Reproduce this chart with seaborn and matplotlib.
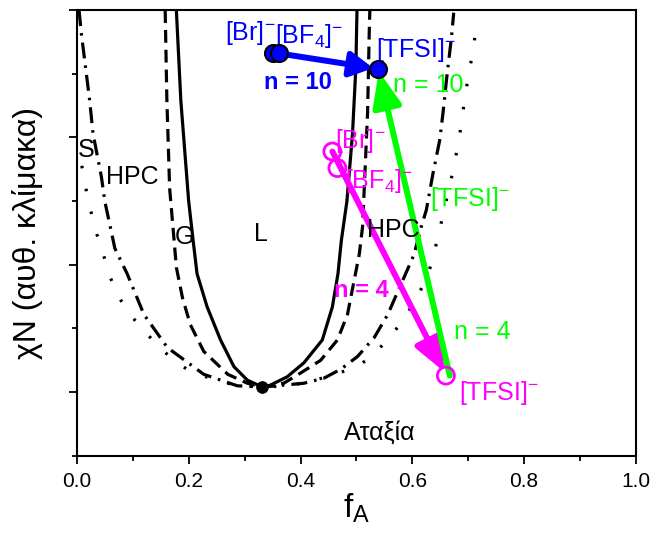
import numpy as np
import pandas as pd
import seaborn as sns
from matplotlib import pyplot as plt
from matplotlib.ticker import MultipleLocator, NullFormatter

# phase boundaries (f_A, chiN in arbitrary units)
odt_f = [0.178, 0.186, 0.200, 0.208, 0.215, 0.233, 0.257, 0.281, 0.305, 0.332,
         0.346, 0.376, 0.406, 0.439, 0.457, 0.467, 0.473, 0.483, 0.493, 0.499, 0.501]
odt_chi = [3.0, 2.29, 1.5, 1.19, 0.93, 0.67, 0.41, 0.2, 0.094, 0.04,
           0.055, 0.12, 0.23, 0.41, 0.67, 0.93, 1.19, 1.5, 2.03, 2.55, 3.0]

dash_f = [0.158, 0.161, 0.166, 0.174, 0.178, 0.189, 0.203, 0.227, 0.270, 0.305, 0.332,
          0.370, 0.400, 0.436, 0.466, 0.484, 0.496, 0.505, 0.511, 0.515, 0.520, 0.523, 0.524]
dash_chi = [3.0, 2.3, 1.6, 1.19, 0.98, 0.74, 0.53, 0.32, 0.14, 0.07, 0.04,
            0.07, 0.15, 0.25, 0.41, 0.61, 0.88, 1.08, 1.3, 1.7, 2.2, 2.84, 3.0]

dashdot_f = [0.004, 0.008, 0.023, 0.029, 0.044, 0.050, 0.068, 0.090, 0.120, 0.162, 0.227, 0.287, 0.332,
             0.406, 0.442, 0.472, 0.502, 0.532, 0.556, 0.580, 0.603, 0.616, 0.625, 0.637, 0.649,
             0.655, 0.661, 0.670, 0.674]
dashdot_chi = [3.0, 2.82, 2.29, 2.03, 1.69, 1.5, 1.13, 0.93, 0.61, 0.35, 0.14, 0.05, 0.04,
               0.07, 0.11, 0.18, 0.28, 0.43, 0.61, 0.85, 1.08, 1.3, 1.43, 1.72, 1.98,
               2.2, 2.45, 2.79, 2.98]

dot_f = [-0.005, 0.008, 0.020, 0.035, 0.042, 0.051, 0.060, 0.072, 0.090, 0.114, 0.142, 0.168, 0.200,
         0.257, 0.293, 0.332, 0.382, 0.448, 0.502, 0.532, 0.559, 0.583, 0.601, 0.617, 0.630,
         0.638, 0.646, 0.666, 0.673, 0.684, 0.693, 0.702, 0.709, 0.715]
dot_chi = [1.95, 1.8, 1.51, 1.25, 1.16, 1.03, 0.9, 0.77, 0.64, 0.51, 0.38, 0.27, 0.17,
           0.08, 0.05, 0.04, 0.05, 0.12, 0.2, 0.3, 0.43, 0.56, 0.69, 0.82, 0.95,
           1.08, 1.22, 1.61, 1.74, 2.0, 2.28, 2.54, 2.67, 2.94]

# experimental points
ions = ['[Br]$^{-}$', '[BF$_4$]$^{-}$', '[TFSI]$^{-}$']
n10_f = [0.350, 0.362, 0.538]
n10_chi = [2.66, 2.66, 2.54]
n4_f = [0.457, 0.466, 0.660]
n4_chi = [1.89, 1.76, 0.13]
crit_f, crit_chi = 0.332, 0.04

sns.set_style('ticks')
plt.rcParams['font.family'] = ['Liberation Sans', 'DejaVu Sans']
plt.rcParams['mathtext.fontset'] = 'custom'
plt.rcParams['mathtext.rm'] = 'Liberation Sans'
plt.rcParams['mathtext.it'] = 'Liberation Sans:italic'
plt.rcParams['mathtext.bf'] = 'Liberation Sans:bold'
plt.rcParams['mathtext.default'] = 'regular'
plt.rcParams['text.color'] = 'black'
plt.rcParams['axes.labelcolor'] = 'black'
plt.rcParams['xtick.color'] = 'black'
plt.rcParams['ytick.color'] = 'black'

fig, ax = plt.subplots(figsize=(6.51, 5.35), dpi=100)
fig.subplots_adjust(left=0.118, right=0.977, bottom=0.148, top=0.981)

curves = [
    (dot_f, dot_chi, (0, (0.8, 6.5))),
    (dashdot_f, dashdot_chi, (0, (5, 2.2, 0.8, 2.2))),
    (dash_f, dash_chi, (0, (4, 2.2))),
    (odt_f, odt_chi, '-'),
]
for xs, ys, ls in curves:
    sns.lineplot(x=xs, y=ys, sort=False, estimator=None, color='black',
                 lw=2.3, linestyle=ls, ax=ax)

sns.scatterplot(x=[crit_f], y=[crit_chi], color='black', edgecolor='black', s=70,
                ax=ax, zorder=5)

# arrows
ax.annotate('', xy=(0.530, 2.545), xytext=(n10_f[1], n10_chi[1]),
            arrowprops=dict(arrowstyle='-|>,head_length=0.55,head_width=0.3', lw=4.3,
                            color='#0000ff', mutation_scale=25, shrinkA=0, shrinkB=0))
ax.annotate('', xy=(0.657, 0.16), xytext=(n4_f[0], n4_chi[0]),
            arrowprops=dict(arrowstyle='-|>,head_length=0.8,head_width=0.35', lw=4.3,
                            color='#ff00ff', mutation_scale=25, shrinkA=0, shrinkB=0))
ax.annotate('', xy=(0.540, 2.52), xytext=(0.667, 0.13),
            arrowprops=dict(arrowstyle='-|>,head_length=0.85,head_width=0.35', lw=4.3,
                            color='#00ff00', mutation_scale=25, shrinkA=0, shrinkB=0))

sns.scatterplot(x=n10_f, y=n10_chi, color='#0000ff', edgecolor='black', linewidth=1.5,
                s=150, ax=ax, zorder=6)
sns.scatterplot(x=n4_f, y=n4_chi, facecolor='none', edgecolor='#ff00ff', linewidth=2,
                s=150, ax=ax, zorder=6)

fs = 18
# phase labels
ax.text(0.016, 1.9, 'S', fontsize=fs, ha='center', va='center')
ax.text(0.100, 1.69, 'HPC', fontsize=fs, ha='center', va='center')
ax.text(0.193, 1.22, 'G', fontsize=fs, ha='center', va='center')
ax.text(0.330, 1.24, 'L', fontsize=fs, ha='center', va='center')
ax.text(0.566, 1.27, 'HPC', fontsize=fs, ha='center', va='center')
ax.text(0.541, -0.32, 'Αταξία', fontsize=fs, ha='center', va='center')

# ion labels
ax.text(0.310, 2.82, ions[0], fontsize=fs, color='#0000ff', ha='center', va='center')
ax.text(0.416, 2.80, ions[1], fontsize=fs, color='#0000ff', ha='center', va='center')
ax.text(0.607, 2.69, ions[2], fontsize=fs, color='#0000ff', ha='center', va='center')
ax.text(0.395, 2.43, 'n = 10', fontsize=fs - 1, color='#0000ff', fontweight='bold',
        ha='center', va='center')

ax.text(0.507, 1.97, ions[0], fontsize=fs, color='#ff00ff', ha='center', va='center')
ax.text(0.540, 1.66, ions[1], fontsize=fs, color='#ff00ff', ha='center', va='center')
ax.text(0.684, -0.01, ions[2], fontsize=fs, color='#ff00ff', ha='left', va='center')
ax.text(0.508, 0.80, 'n = 4', fontsize=fs - 1, color='#ff00ff', fontweight='bold',
        ha='center', va='center')

ax.text(0.628, 2.41, 'n = 10', fontsize=fs, color='#00ff00', ha='center', va='center')
ax.text(0.703, 1.52, ions[2], fontsize=fs, color='#00ff00', ha='center', va='center')
ax.text(0.725, 0.47, 'n = 4', fontsize=fs, color='#00ff00', ha='center', va='center')

ax.set_xlim(0, 1)
ax.set_ylim(-0.5, 3.0)
ax.xaxis.set_major_locator(MultipleLocator(0.2))
ax.xaxis.set_minor_locator(MultipleLocator(0.1))
ax.yaxis.set_major_locator(MultipleLocator(1))
ax.yaxis.set_minor_locator(MultipleLocator(0.5))
ax.yaxis.set_major_formatter(NullFormatter())
ax.tick_params(axis='both', which='major', length=6, width=1.3, labelsize=15,
               direction='out', pad=6)
ax.tick_params(axis='both', which='minor', length=3.5, width=1.3, direction='out')
for sp in ax.spines.values():
    sp.set_visible(True)
    sp.set_linewidth(1.5)
    sp.set_color('black')

ax.set_xlabel('f$_{A}$', fontsize=24, labelpad=0)
ax.set_ylabel('χN (αυθ. κλίμακα)', fontsize=23, labelpad=12)

fig.savefig('out.png', dpi=100)
